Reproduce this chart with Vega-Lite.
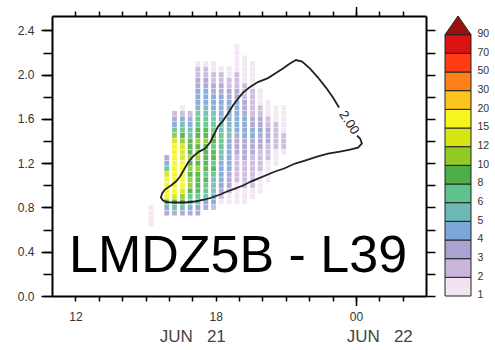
{
  "$schema": "https://vega.github.io/schema/vega-lite/v6.json",
  "background": "white",
  "padding": {"left": 17, "top": 5, "right": 0, "bottom": 0},
  "bounds": "flush",
  "spacing": 19,
  "config": {
    "view": {"stroke": null},
    "axis": {"labelFont": "Liberation Sans", "labelColor": "#333", "labelFontSize": 12, "tickColor": "#000", "domainColor": "#000", "tickWidth": 1.5, "domainWidth": 2, "grid": false},
    "text": {"font": "Liberation Sans"}
  },
  "hconcat": [
    {
      "width": 374,
      "height": 280,
      "resolve": {"axis": {"x": "independent", "y": "independent"}},
      "layer": [
        {
          "data": {"values": [
            {"t":15.91,"y":0.75,"n":3},{"t":15.91,"y":0.80,"n":4},{"t":15.91,"y":0.85,"n":8},{"t":15.91,"y":0.90,"n":15},{"t":15.91,"y":0.95,"n":15},{"t":15.91,"y":1.00,"n":15},{"t":15.91,"y":1.05,"n":15},{"t":15.91,"y":1.10,"n":12},{"t":15.91,"y":1.15,"n":6},{"t":15.91,"y":1.20,"n":4},{"t":15.91,"y":1.25,"n":3},
            {"t":16.24,"y":0.75,"n":3},{"t":16.24,"y":0.80,"n":5},{"t":16.24,"y":0.85,"n":8},{"t":16.24,"y":0.90,"n":12},{"t":16.24,"y":0.95,"n":15},{"t":16.24,"y":1.00,"n":15},{"t":16.24,"y":1.05,"n":15},{"t":16.24,"y":1.10,"n":15},{"t":16.24,"y":1.15,"n":15},{"t":16.24,"y":1.20,"n":15},{"t":16.24,"y":1.25,"n":15},{"t":16.24,"y":1.30,"n":15},{"t":16.24,"y":1.35,"n":15},{"t":16.24,"y":1.40,"n":12},{"t":16.24,"y":1.45,"n":10},{"t":16.24,"y":1.50,"n":6},{"t":16.24,"y":1.55,"n":4},{"t":16.24,"y":1.60,"n":3},{"t":16.24,"y":1.65,"n":2},
            {"t":16.58,"y":0.75,"n":3},{"t":16.58,"y":0.80,"n":5},{"t":16.58,"y":0.85,"n":8},{"t":16.58,"y":0.90,"n":10},{"t":16.58,"y":0.95,"n":12},{"t":16.58,"y":1.00,"n":15},{"t":16.58,"y":1.05,"n":15},{"t":16.58,"y":1.10,"n":15},{"t":16.58,"y":1.15,"n":15},{"t":16.58,"y":1.20,"n":15},{"t":16.58,"y":1.25,"n":12},{"t":16.58,"y":1.30,"n":12},{"t":16.58,"y":1.35,"n":12},{"t":16.58,"y":1.40,"n":10},{"t":16.58,"y":1.45,"n":8},{"t":16.58,"y":1.50,"n":6},{"t":16.58,"y":1.55,"n":5},{"t":16.58,"y":1.60,"n":4},{"t":16.58,"y":1.65,"n":2},{"t":16.58,"y":1.70,"n":1},
            {"t":16.91,"y":0.75,"n":3},{"t":16.91,"y":0.80,"n":4},{"t":16.91,"y":0.85,"n":6},{"t":16.91,"y":0.90,"n":6},{"t":16.91,"y":0.95,"n":8},{"t":16.91,"y":1.00,"n":10},{"t":16.91,"y":1.05,"n":10},{"t":16.91,"y":1.10,"n":8},{"t":16.91,"y":1.15,"n":10},{"t":16.91,"y":1.20,"n":8},{"t":16.91,"y":1.25,"n":10},{"t":16.91,"y":1.30,"n":8},{"t":16.91,"y":1.35,"n":8},{"t":16.91,"y":1.40,"n":8},{"t":16.91,"y":1.45,"n":6},{"t":16.91,"y":1.50,"n":5},{"t":16.91,"y":1.55,"n":4},{"t":16.91,"y":1.60,"n":3},{"t":16.91,"y":1.65,"n":2},
            {"t":17.24,"y":0.75,"n":3},{"t":17.24,"y":0.80,"n":4},{"t":17.24,"y":0.85,"n":5},{"t":17.24,"y":0.90,"n":6},{"t":17.24,"y":0.95,"n":8},{"t":17.24,"y":1.00,"n":8},{"t":17.24,"y":1.05,"n":8},{"t":17.24,"y":1.10,"n":8},{"t":17.24,"y":1.15,"n":10},{"t":17.24,"y":1.20,"n":8},{"t":17.24,"y":1.25,"n":10},{"t":17.24,"y":1.30,"n":10},{"t":17.24,"y":1.35,"n":8},{"t":17.24,"y":1.40,"n":10},{"t":17.24,"y":1.45,"n":8},{"t":17.24,"y":1.50,"n":8},{"t":17.24,"y":1.55,"n":6},{"t":17.24,"y":1.60,"n":6},{"t":17.24,"y":1.65,"n":5},{"t":17.24,"y":1.70,"n":5},{"t":17.24,"y":1.75,"n":4},{"t":17.24,"y":1.80,"n":4},{"t":17.24,"y":1.85,"n":4},{"t":17.24,"y":1.90,"n":3},{"t":17.24,"y":1.95,"n":3},{"t":17.24,"y":2.00,"n":2},{"t":17.24,"y":2.05,"n":2},{"t":17.24,"y":2.10,"n":1},
            {"t":17.58,"y":0.80,"n":3},{"t":17.58,"y":0.85,"n":4},{"t":17.58,"y":0.90,"n":5},{"t":17.58,"y":0.95,"n":6},{"t":17.58,"y":1.00,"n":6},{"t":17.58,"y":1.05,"n":8},{"t":17.58,"y":1.10,"n":6},{"t":17.58,"y":1.15,"n":8},{"t":17.58,"y":1.20,"n":8},{"t":17.58,"y":1.25,"n":8},{"t":17.58,"y":1.30,"n":8},{"t":17.58,"y":1.35,"n":8},{"t":17.58,"y":1.40,"n":10},{"t":17.58,"y":1.45,"n":8},{"t":17.58,"y":1.50,"n":8},{"t":17.58,"y":1.55,"n":6},{"t":17.58,"y":1.60,"n":6},{"t":17.58,"y":1.65,"n":5},{"t":17.58,"y":1.70,"n":5},{"t":17.58,"y":1.75,"n":4},{"t":17.58,"y":1.80,"n":4},{"t":17.58,"y":1.85,"n":4},{"t":17.58,"y":1.90,"n":3},{"t":17.58,"y":1.95,"n":3},{"t":17.58,"y":2.00,"n":2},{"t":17.58,"y":2.05,"n":2},{"t":17.58,"y":2.10,"n":1},
            {"t":17.91,"y":0.80,"n":2},{"t":17.91,"y":0.85,"n":4},{"t":17.91,"y":0.90,"n":4},{"t":17.91,"y":0.95,"n":5},{"t":17.91,"y":1.00,"n":5},{"t":17.91,"y":1.05,"n":5},{"t":17.91,"y":1.10,"n":6},{"t":17.91,"y":1.15,"n":8},{"t":17.91,"y":1.20,"n":6},{"t":17.91,"y":1.25,"n":8},{"t":17.91,"y":1.30,"n":8},{"t":17.91,"y":1.35,"n":6},{"t":17.91,"y":1.40,"n":8},{"t":17.91,"y":1.45,"n":8},{"t":17.91,"y":1.50,"n":6},{"t":17.91,"y":1.55,"n":6},{"t":17.91,"y":1.60,"n":5},{"t":17.91,"y":1.65,"n":5},{"t":17.91,"y":1.70,"n":4},{"t":17.91,"y":1.75,"n":4},{"t":17.91,"y":1.80,"n":4},{"t":17.91,"y":1.85,"n":3},{"t":17.91,"y":1.90,"n":3},{"t":17.91,"y":1.95,"n":2},{"t":17.91,"y":2.00,"n":2},{"t":17.91,"y":2.05,"n":1},{"t":17.91,"y":2.10,"n":1},
            {"t":18.24,"y":0.85,"n":1},{"t":18.24,"y":0.90,"n":2},{"t":18.24,"y":0.95,"n":3},{"t":18.24,"y":1.00,"n":4},{"t":18.24,"y":1.05,"n":4},{"t":18.24,"y":1.10,"n":4},{"t":18.24,"y":1.15,"n":4},{"t":18.24,"y":1.20,"n":4},{"t":18.24,"y":1.25,"n":5},{"t":18.24,"y":1.30,"n":5},{"t":18.24,"y":1.35,"n":6},{"t":18.24,"y":1.40,"n":6},{"t":18.24,"y":1.45,"n":6},{"t":18.24,"y":1.50,"n":5},{"t":18.24,"y":1.55,"n":5},{"t":18.24,"y":1.60,"n":4},{"t":18.24,"y":1.65,"n":4},{"t":18.24,"y":1.70,"n":4},{"t":18.24,"y":1.75,"n":4},{"t":18.24,"y":1.80,"n":4},{"t":18.24,"y":1.85,"n":3},{"t":18.24,"y":1.90,"n":3},{"t":18.24,"y":1.95,"n":2},{"t":18.24,"y":2.00,"n":2},{"t":18.24,"y":2.05,"n":1},
            {"t":18.58,"y":0.85,"n":1},{"t":18.58,"y":0.90,"n":1},{"t":18.58,"y":0.95,"n":2},{"t":18.58,"y":1.00,"n":3},{"t":18.58,"y":1.05,"n":3},{"t":18.58,"y":1.10,"n":3},{"t":18.58,"y":1.15,"n":4},{"t":18.58,"y":1.20,"n":4},{"t":18.58,"y":1.25,"n":4},{"t":18.58,"y":1.30,"n":4},{"t":18.58,"y":1.35,"n":4},{"t":18.58,"y":1.40,"n":4},{"t":18.58,"y":1.45,"n":5},{"t":18.58,"y":1.50,"n":5},{"t":18.58,"y":1.55,"n":5},{"t":18.58,"y":1.60,"n":4},{"t":18.58,"y":1.65,"n":4},{"t":18.58,"y":1.70,"n":4},{"t":18.58,"y":1.75,"n":4},{"t":18.58,"y":1.80,"n":3},{"t":18.58,"y":1.85,"n":3},{"t":18.58,"y":1.90,"n":2},{"t":18.58,"y":1.95,"n":2},{"t":18.58,"y":2.00,"n":1},{"t":18.58,"y":2.05,"n":1},
            {"t":18.91,"y":0.85,"n":1},{"t":18.91,"y":0.90,"n":1},{"t":18.91,"y":0.95,"n":1},{"t":18.91,"y":1.00,"n":1},{"t":18.91,"y":1.05,"n":2},{"t":18.91,"y":1.10,"n":2},{"t":18.91,"y":1.15,"n":2},{"t":18.91,"y":1.20,"n":2},{"t":18.91,"y":1.25,"n":2},{"t":18.91,"y":1.30,"n":3},{"t":18.91,"y":1.35,"n":3},{"t":18.91,"y":1.40,"n":3},{"t":18.91,"y":1.45,"n":3},{"t":18.91,"y":1.50,"n":4},{"t":18.91,"y":1.55,"n":4},{"t":18.91,"y":1.60,"n":4},{"t":18.91,"y":1.65,"n":4},{"t":18.91,"y":1.70,"n":4},{"t":18.91,"y":1.75,"n":4},{"t":18.91,"y":1.80,"n":3},{"t":18.91,"y":1.85,"n":3},{"t":18.91,"y":1.90,"n":2},{"t":18.91,"y":1.95,"n":2},{"t":18.91,"y":2.00,"n":2},{"t":18.91,"y":2.05,"n":1},{"t":18.91,"y":2.10,"n":1},{"t":18.91,"y":2.15,"n":1},{"t":18.91,"y":2.20,"n":1},{"t":18.91,"y":2.25,"n":1},
            {"t":19.24,"y":0.85,"n":1},{"t":19.24,"y":0.90,"n":1},{"t":19.24,"y":0.95,"n":1},{"t":19.24,"y":1.00,"n":2},{"t":19.24,"y":1.05,"n":2},{"t":19.24,"y":1.10,"n":2},{"t":19.24,"y":1.15,"n":2},{"t":19.24,"y":1.20,"n":2},{"t":19.24,"y":1.25,"n":3},{"t":19.24,"y":1.30,"n":3},{"t":19.24,"y":1.35,"n":3},{"t":19.24,"y":1.40,"n":3},{"t":19.24,"y":1.45,"n":4},{"t":19.24,"y":1.50,"n":4},{"t":19.24,"y":1.55,"n":4},{"t":19.24,"y":1.60,"n":4},{"t":19.24,"y":1.65,"n":3},{"t":19.24,"y":1.70,"n":3},{"t":19.24,"y":1.75,"n":3},{"t":19.24,"y":1.80,"n":2},{"t":19.24,"y":1.85,"n":2},{"t":19.24,"y":1.90,"n":2},{"t":19.24,"y":1.95,"n":1},{"t":19.24,"y":2.00,"n":1},{"t":19.24,"y":2.05,"n":1},{"t":19.24,"y":2.10,"n":1},{"t":19.24,"y":2.15,"n":1},
            {"t":19.58,"y":0.90,"n":1},{"t":19.58,"y":0.95,"n":1},{"t":19.58,"y":1.00,"n":2},{"t":19.58,"y":1.05,"n":2},{"t":19.58,"y":1.10,"n":2},{"t":19.58,"y":1.15,"n":2},{"t":19.58,"y":1.20,"n":2},{"t":19.58,"y":1.25,"n":2},{"t":19.58,"y":1.30,"n":3},{"t":19.58,"y":1.35,"n":3},{"t":19.58,"y":1.40,"n":3},{"t":19.58,"y":1.45,"n":4},{"t":19.58,"y":1.50,"n":4},{"t":19.58,"y":1.55,"n":3},{"t":19.58,"y":1.60,"n":3},{"t":19.58,"y":1.65,"n":2},{"t":19.58,"y":1.70,"n":2},{"t":19.58,"y":1.75,"n":2},{"t":19.58,"y":1.80,"n":2},{"t":19.58,"y":1.85,"n":2},{"t":19.58,"y":1.90,"n":1},{"t":19.58,"y":1.95,"n":1},{"t":19.58,"y":2.00,"n":1},{"t":19.58,"y":2.05,"n":1},{"t":19.58,"y":2.10,"n":1},
            {"t":19.91,"y":0.95,"n":1},{"t":19.91,"y":1.00,"n":1},{"t":19.91,"y":1.05,"n":1},{"t":19.91,"y":1.10,"n":1},{"t":19.91,"y":1.15,"n":2},{"t":19.91,"y":1.20,"n":2},{"t":19.91,"y":1.25,"n":2},{"t":19.91,"y":1.30,"n":2},{"t":19.91,"y":1.35,"n":3},{"t":19.91,"y":1.40,"n":3},{"t":19.91,"y":1.45,"n":3},{"t":19.91,"y":1.50,"n":4},{"t":19.91,"y":1.55,"n":3},{"t":19.91,"y":1.60,"n":3},{"t":19.91,"y":1.65,"n":2},{"t":19.91,"y":1.70,"n":2},{"t":19.91,"y":1.75,"n":1},{"t":19.91,"y":1.80,"n":1},{"t":19.91,"y":1.85,"n":1},
            {"t":20.24,"y":1.05,"n":1},{"t":20.24,"y":1.10,"n":1},{"t":20.24,"y":1.15,"n":1},{"t":20.24,"y":1.20,"n":1},{"t":20.24,"y":1.25,"n":2},{"t":20.24,"y":1.30,"n":2},{"t":20.24,"y":1.35,"n":2},{"t":20.24,"y":1.40,"n":3},{"t":20.24,"y":1.45,"n":3},{"t":20.24,"y":1.50,"n":3},{"t":20.24,"y":1.55,"n":2},{"t":20.24,"y":1.60,"n":2},{"t":20.24,"y":1.65,"n":1},{"t":20.24,"y":1.70,"n":1},{"t":20.24,"y":1.75,"n":1},
            {"t":20.58,"y":1.20,"n":1},{"t":20.58,"y":1.25,"n":1},{"t":20.58,"y":1.30,"n":1},{"t":20.58,"y":1.35,"n":2},{"t":20.58,"y":1.40,"n":2},{"t":20.58,"y":1.45,"n":2},{"t":20.58,"y":1.50,"n":2},{"t":20.58,"y":1.55,"n":2},{"t":20.58,"y":1.60,"n":1},{"t":20.58,"y":1.65,"n":1},{"t":20.58,"y":1.70,"n":1},
            {"t":20.91,"y":1.30,"n":1},{"t":20.91,"y":1.35,"n":2},{"t":20.91,"y":1.40,"n":2},{"t":20.91,"y":1.45,"n":2},{"t":20.91,"y":1.50,"n":1},{"t":20.91,"y":1.55,"n":1},{"t":20.91,"y":1.60,"n":1},{"t":20.91,"y":1.65,"n":1},{"t":20.91,"y":1.70,"n":1}
          ]},
          "mark": {"type": "tick", "orient": "vertical", "size": 5, "thickness": 4.8, "opacity": 0.9},
          "encoding": {
            "x": {"field": "t", "type": "quantitative", "scale": {"domain": [11, 27], "nice": false, "zero": false},
              "axis": {"orient": "bottom", "title": null, "values": [12,13,14,15,16,17,18,19,20,21,22,23,24,25,26], "tickSize": 5, "labelPadding": 10, "labelFontSize": 12, "labelFlush": false, "labelOverlap": false,
                "labelExpr": "datum.value == 12 ? '12' : datum.value == 18 ? '18' : datum.value == 24 ? '00' : ''"}},
            "y": {"field": "y", "type": "quantitative", "scale": {"domain": [0, 2.53], "nice": false, "zero": false},
              "axis": {"orient": "left", "title": null, "values": [0,0.2,0.4,0.6,0.8,1,1.2,1.4,1.6,1.8,2,2.2,2.4], "tickSize": 9, "labels": false}},
            "color": {"field": "n", "type": "ordinal", "legend": null,
              "scale": {"domain": [1,2,3,4,5,6,8,10,12,15,20,30,50,70,90], "range": ["#f1e4f1","#cbb6db","#a8a3d0","#7ea6d6","#6db9b6","#5ec38a","#4eaf48","#92cb26","#d5e614","#f6f520","#fcc51e","#fd8019","#ff3c14","#dc1313","#9b0f0f"]}}
          }
        },
        {
          "data": {"values": [{"t":15.24,"y":0.65,"n":1},{"t":15.24,"y":0.70,"n":1},{"t":15.24,"y":0.75,"n":1},{"t":15.24,"y":0.80,"n":1}]},
          "mark": {"type": "tick", "orient": "vertical", "size": 5, "thickness": 4.8, "opacity": 0.9},
          "encoding": {
            "x": {"field": "t", "type": "quantitative", "scale": {"domain": [11, 27], "nice": false, "zero": false},
              "axis": {"orient": "bottom", "title": null, "values": [17, 25], "ticks": false, "tickSize": 0, "domain": false, "labelPadding": 32, "labelFontSize": 17, "labelColor": "#444", "labelFlush": false, "labelOverlap": false,
                "labelExpr": "datum.value == 17 ? 'JUN\u00a0\u00a0 21' : 'JUN\u00a0\u00a0 22'"}},
            "y": {"field": "y", "type": "quantitative", "scale": {"domain": [0, 2.53], "nice": false, "zero": false}, "axis": null},
            "color": {"field": "n", "type": "ordinal", "legend": null,
              "scale": {"domain": [1,2,3,4,5,6,8,10,12,15,20,30,50,70,90], "range": ["#f1e4f1","#cbb6db","#a8a3d0","#7ea6d6","#6db9b6","#5ec38a","#4eaf48","#92cb26","#d5e614","#f6f520","#fcc51e","#fd8019","#ff3c14","#dc1313","#9b0f0f"]}}
          }
        },
        {
          "data": {"values": [
            {"i":1,"t":24.05,"y":1.450},{"i":2,"t":24.18,"y":1.423},{"i":3,"t":24.26,"y":1.378},{"i":4,"t":24.09,"y":1.341},{"i":5,"t":23.75,"y":1.323},{"i":6,"t":23.32,"y":1.305},{"i":7,"t":22.81,"y":1.287},{"i":8,"t":22.34,"y":1.260},{"i":9,"t":21.82,"y":1.224},{"i":10,"t":21.40,"y":1.197},
            {"i":11,"t":20.93,"y":1.152},{"i":12,"t":20.54,"y":1.125},{"i":13,"t":20.24,"y":1.098},{"i":14,"t":19.81,"y":1.061},{"i":15,"t":19.51,"y":1.034},{"i":16,"t":19.17,"y":0.998},{"i":17,"t":18.83,"y":0.971},{"i":18,"t":18.49,"y":0.944},{"i":19,"t":18.19,"y":0.917},{"i":20,"t":17.84,"y":0.890},
            {"i":21,"t":17.55,"y":0.872},{"i":22,"t":17.12,"y":0.854},{"i":23,"t":16.69,"y":0.845},{"i":24,"t":16.26,"y":0.845},{"i":25,"t":15.92,"y":0.849},{"i":26,"t":15.75,"y":0.863},{"i":27,"t":15.66,"y":0.890},{"i":28,"t":15.71,"y":0.926},{"i":29,"t":15.83,"y":0.962},{"i":30,"t":16.09,"y":0.998},
            {"i":31,"t":16.30,"y":1.034},{"i":32,"t":16.48,"y":1.080},{"i":33,"t":16.65,"y":1.143},{"i":34,"t":16.82,"y":1.206},{"i":35,"t":17.03,"y":1.260},{"i":36,"t":17.29,"y":1.305},{"i":37,"t":17.55,"y":1.332},{"i":38,"t":17.76,"y":1.387},{"i":39,"t":17.93,"y":1.459},{"i":40,"t":18.10,"y":1.531},
            {"i":41,"t":18.32,"y":1.585},{"i":42,"t":18.53,"y":1.649},{"i":43,"t":18.74,"y":1.721},{"i":44,"t":18.96,"y":1.784},{"i":45,"t":19.17,"y":1.838},{"i":46,"t":19.47,"y":1.888},{"i":47,"t":19.81,"y":1.933},{"i":48,"t":20.24,"y":1.969},{"i":49,"t":20.58,"y":2.014},{"i":50,"t":20.88,"y":2.055},
            {"i":51,"t":21.18,"y":2.100},{"i":52,"t":21.44,"y":2.132},{"i":53,"t":21.70,"y":2.118},{"i":54,"t":22.04,"y":2.055},{"i":55,"t":22.38,"y":1.974},{"i":56,"t":22.72,"y":1.883},{"i":57,"t":23.02,"y":1.793},{"i":58,"t":23.28,"y":1.703}
          ]},
          "mark": {"type": "line", "stroke": "#222", "strokeWidth": 1.8},
          "encoding": {
            "x": {"field": "t", "type": "quantitative", "scale": {"domain": [11, 27], "nice": false, "zero": false},
              "axis": {"orient": "top", "title": null, "values": [12,13,14,15,16,17,18,19,20,21,22,23,24,25,26], "tickSize": 5, "labels": false}},
            "y": {"field": "y", "type": "quantitative", "scale": {"domain": [0, 2.53], "nice": false, "zero": false},
              "axis": {"orient": "right", "title": null, "values": [0,0.2,0.4,0.6,0.8,1,1.2,1.4,1.6,1.8,2,2.2,2.4], "tickSize": 9, "labels": false}},
            "order": {"field": "i", "type": "quantitative"}
          }
        },
        {
          "data": {"values": [{"t": 23.71, "y": 1.567, "label": "2.00"}]},
          "mark": {"type": "text", "angle": 57, "fontSize": 13, "color": "#222", "align": "center", "baseline": "middle"},
          "encoding": {
            "x": {"field": "t", "type": "quantitative", "scale": {"domain": [11, 27], "nice": false, "zero": false},
              "axis": {"orient": "bottom", "title": null, "values": [24], "tickSize": 9.5, "labels": false, "domain": false}},
            "y": {"field": "y", "type": "quantitative", "scale": {"domain": [0, 2.53], "nice": false, "zero": false},
              "axis": {"orient": "left", "title": null, "values": [0,0.4,0.8,1.2,1.6,2,2.4], "tickSize": 11, "format": ".1f", "labelPadding": 7, "domain": false}},
            "text": {"field": "label"}
          }
        },
        {
          "data": {"values": [{"t": 18.96, "y": 0.221, "label": "LMDZ5B - L39"}]},
          "mark": {"type": "text", "fontSize": 52, "color": "#000", "align": "center", "baseline": "alphabetic"},
          "encoding": {
            "x": {"field": "t", "type": "quantitative", "scale": {"domain": [11, 27], "nice": false, "zero": false},
              "axis": {"orient": "top", "title": null, "values": [24], "tickSize": 9.5, "labels": false, "domain": false}},
            "y": {"field": "y", "type": "quantitative", "scale": {"domain": [0, 2.53], "nice": false, "zero": false}, "axis": null},
            "text": {"field": "label"}
          }
        }
      ]
    },
    {
      "width": 26,
      "height": 280,
      "layer": [
        {
          "data": {"values": [{"n":1},{"n":2},{"n":3},{"n":4},{"n":5},{"n":6},{"n":8},{"n":10},{"n":12},{"n":15},{"n":20},{"n":30},{"n":50},{"n":70}]},
          "mark": {"type": "rect", "stroke": "#222", "strokeWidth": 1},
          "encoding": {
            "y": {"field": "n", "type": "ordinal", "scale": {"domain": [90,70,50,30,20,15,12,10,8,6,5,4,3,2,1], "paddingInner": 0, "paddingOuter": 0},
              "axis": {"orient": "right", "title": null, "ticks": false, "domain": false, "labelPadding": 6, "labelOffset": 8.5, "labelFontSize": 10.5, "labelColor": "#333"}},
            "color": {"field": "n", "type": "ordinal", "legend": null,
              "scale": {"domain": [1,2,3,4,5,6,8,10,12,15,20,30,50,70,90], "range": ["#f1e4f1","#cbb6db","#a8a3d0","#7ea6d6","#6db9b6","#5ec38a","#4eaf48","#92cb26","#d5e614","#f6f520","#fcc51e","#fd8019","#ff3c14","#dc1313","#9b0f0f"]}}
          }
        },
        {
          "data": {"values": [{"n": 90}]},
          "mark": {"type": "point", "filled": true, "shape": "M-1,0.718L0,-0.718L1,0.718Z", "size": 676, "stroke": "#222", "strokeWidth": 1, "opacity": 1},
          "encoding": {
            "y": {"field": "n", "type": "ordinal"},
            "color": {"field": "n", "type": "ordinal", "legend": null,
              "scale": {"domain": [1,2,3,4,5,6,8,10,12,15,20,30,50,70,90], "range": ["#f1e4f1","#cbb6db","#a8a3d0","#7ea6d6","#6db9b6","#5ec38a","#4eaf48","#92cb26","#d5e614","#f6f520","#fcc51e","#fd8019","#ff3c14","#dc1313","#9b0f0f"]}}
          }
        }
      ]
    }
  ]
}
